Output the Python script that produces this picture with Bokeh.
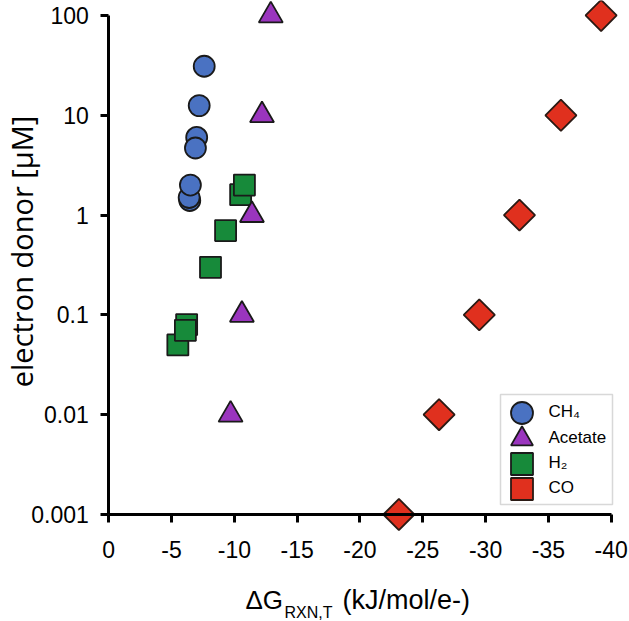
import math
from bokeh.plotting import figure
from bokeh.models import Range1d, FixedTicker, Legend, LegendItem, Label, BoxAnnotation
from bokeh.embed import file_html
from bokeh.resources import INLINE

# ---------------- data ----------------
ch4_dg = [-7.6, -7.2, -7.0, -6.9, -6.45, -6.4, -6.5]
ch4_conc = [31, 12.5, 6.0, 4.7, 1.4, 1.5, 2.0]

acetate_dg = [-9.7, -10.6, -11.4, -12.2, -12.9]
acetate_conc = [0.01, 0.1, 1, 10, 100]

h2_dg = [-5.5, -6.2, -6.1, -8.1, -9.3, -10.5, -10.8]
h2_conc = [0.05, 0.08, 0.07, 0.3, 0.7, 1.6, 2.0]

co_dg = [-23.1, -26.3, -29.5, -32.7, -36.0, -39.2]
co_conc = [0.001, 0.01, 0.1, 1, 10, 100]

series_names = ["CH\u2084", "Acetate", "H\u2082", "CO"]

x_ticks = [0, -5, -10, -15, -20, -25, -30, -35, -40]
x_tick_labels = ["0", "-5", "-10", "-15", "-20", "-25", "-30", "-35", "-40"]
y_ticks = [0.001, 0.01, 0.1, 1, 10, 100]
y_tick_labels = ["0.001", "0.01", "0.1", "1", "10", "100"]

x_title_main = "\u0394G"
x_title_sub = "RXN,T"
x_title_rest = "(kJ/mol/e-)"
y_title = "electron donor [\u03bcM]"

# ---------------- figure ----------------
p = figure(frame_width=629, frame_height=621, output_backend="svg",
           toolbar_location=None, y_axis_type="log",
           x_range=Range1d(8.62, -41.46), y_range=Range1d(8.47e-5, 141.3),
           min_border_left=0, min_border_right=0, min_border_top=0,
           min_border_bottom=0)
p.outline_line_color = None
p.grid.visible = False
p.background_fill_color = "white"

FONT = "Liberation Sans"

# axes (drawn inside the plotting area, crossing at (0, 0.001))
xa = p.xaxis[0]
ya = p.yaxis[0]
xa.fixed_location = 0.001
ya.fixed_location = 0
xa.bounds = (-40, 0)
ya.bounds = (0.001, 100)
xa.ticker = FixedTicker(ticks=x_ticks)
ya.ticker = FixedTicker(ticks=y_ticks)
xa.major_label_overrides = {float(t): s for t, s in zip(x_ticks, x_tick_labels)}
ya.major_label_overrides = {float(t): s for t, s in zip(y_ticks, y_tick_labels)}
for ax in (xa, ya):
    ax.axis_line_width = 3
    ax.axis_line_color = "black"
    ax.major_tick_line_width = 3
    ax.major_tick_line_color = "black"
    ax.major_tick_in = 0
    ax.major_tick_out = 8
    ax.minor_tick_line_color = None
    ax.major_label_text_font = FONT
    ax.major_label_text_font_size = "23px"
    ax.major_label_text_color = "black"
    ax.axis_label = None
xa.major_label_standoff = 19
ya.major_label_standoff = 12

# ---------------- glyphs ----------------
LC = "#1a1a1a"
r_ch4 = p.scatter(ch4_dg, ch4_conc, marker="circle", size=21,
                  fill_color="#4a72c2", line_color=LC, line_width=1.8)
r_h2 = p.scatter(h2_dg, h2_conc, marker="square", size=21,
                 fill_color="#178a3a", line_color=LC, line_width=1.8)
r_ac = p.scatter(acetate_dg, acetate_conc, marker="triangle", size=24,
                 fill_color="#9a35be", line_color=LC, line_width=1.8)
r_co = p.scatter(co_dg, co_conc, marker="square", size=22, angle=math.pi / 4,
                 fill_color="#e0301e", line_color="#2a1a14", line_width=1.8)

# ---------------- legend ----------------
box = BoxAnnotation(left=500, right=612, top=227, bottom=117,
                    left_units="screen", right_units="screen",
                    top_units="screen", bottom_units="screen",
                    fill_color="white", fill_alpha=1.0,
                    line_color="#7f7f7f", line_width=1.5)
p.add_layout(box)

legend_renderers = [r_ch4, r_ac, r_h2, r_co]
legend_rows_y = [181.5, 155.5, 130.5, 105.5]
for name, rend, ly in zip(series_names, legend_renderers, legend_rows_y):
    lg = Legend(items=[LegendItem(label=name, renderers=[rend])],
                location=(493.5, ly),
                glyph_width=55, glyph_height=55, padding=0, spacing=0,
                label_standoff=0, label_text_font=FONT,
                label_text_font_size="17px", label_text_color="black",
                border_line_color=None, background_fill_alpha=0.0)
    p.add_layout(lg, "center")

# ---------------- titles ----------------
p.add_layout(Label(x=245, y=22, x_units="screen", y_units="screen",
                   text=x_title_main, text_font=FONT, text_font_size="26px",
                   text_align="left", text_baseline="alphabetic", text_color="black"))
p.add_layout(Label(x=284, y=9, x_units="screen", y_units="screen",
                   text=x_title_sub, text_font=FONT, text_font_size="16px",
                   text_align="left", text_baseline="alphabetic", text_color="black"))
p.add_layout(Label(x=342, y=22, x_units="screen", y_units="screen",
                   text=x_title_rest, text_font=FONT, text_font_size="27px",
                   text_align="left", text_baseline="alphabetic", text_color="black"))
p.add_layout(Label(x=21, y=370, x_units="screen", y_units="screen",
                   text=y_title, text_font="Open Sans", text_font_size="29px",
                   angle=math.pi / 2, text_align="center", text_baseline="alphabetic",
                   text_color="black"))

open("out.html", "w").write(file_html(p, INLINE))
